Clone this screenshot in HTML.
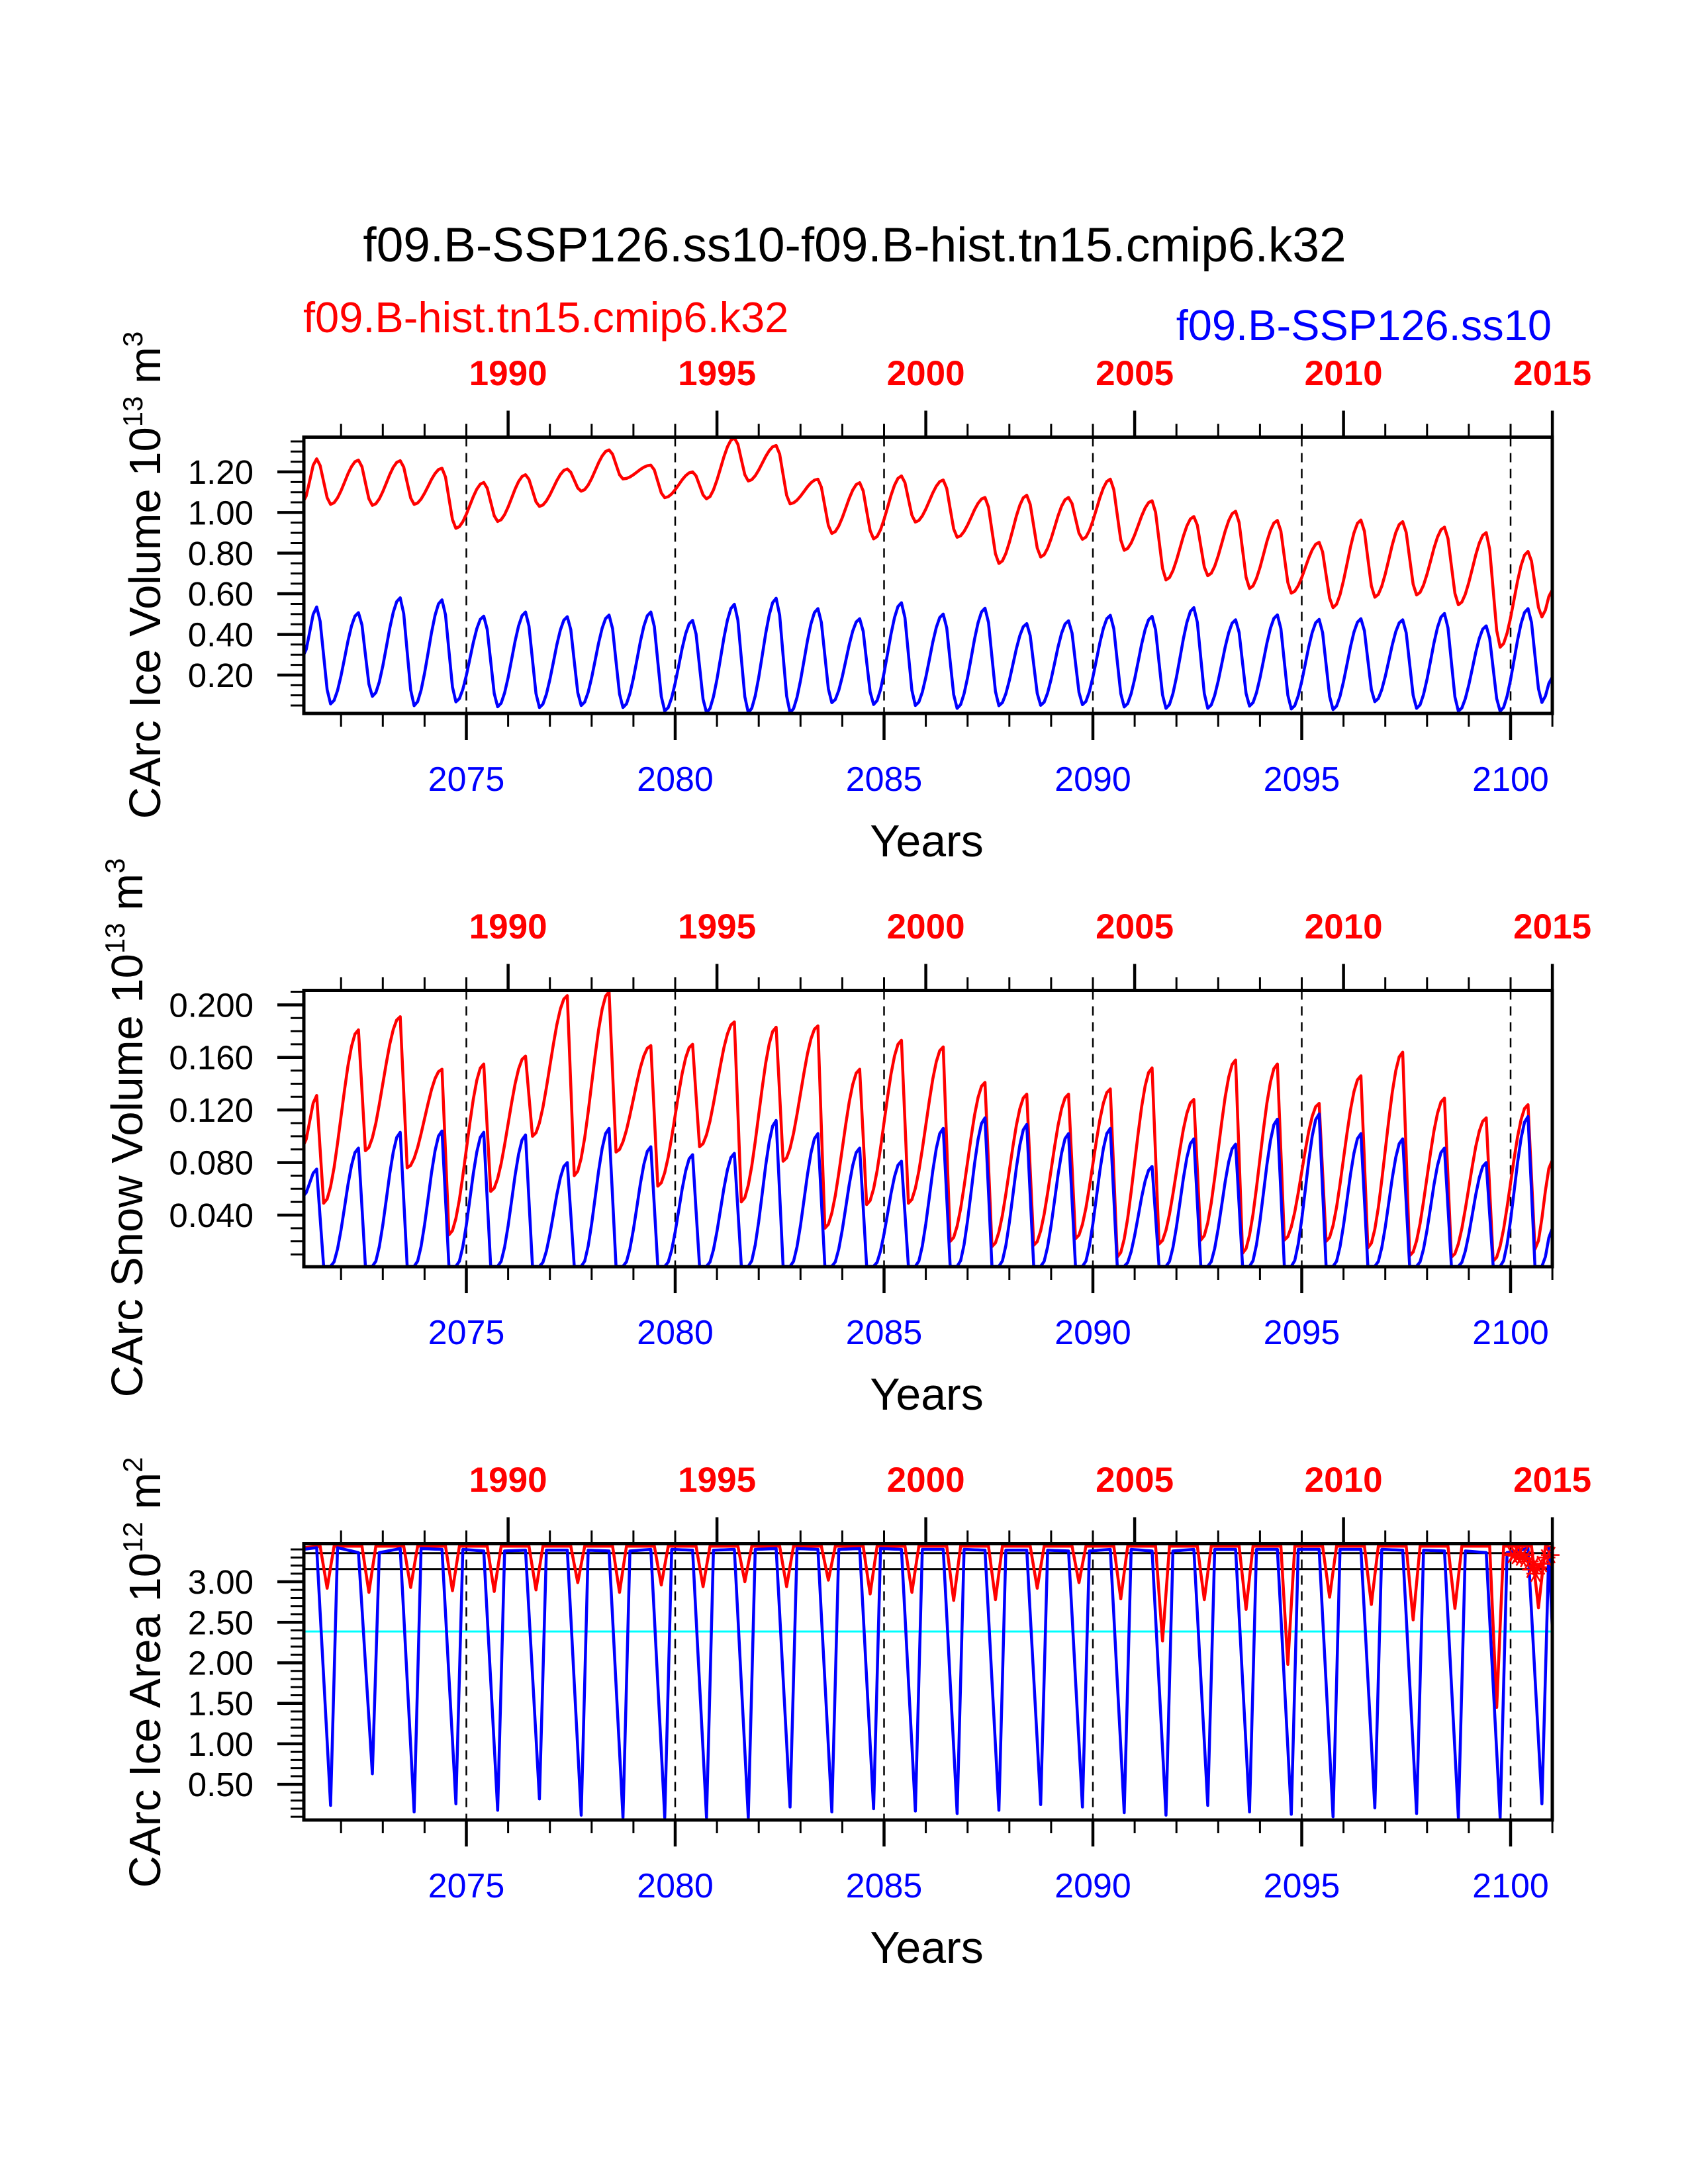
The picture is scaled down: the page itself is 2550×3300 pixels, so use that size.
<!DOCTYPE html>
<html><head><meta charset="utf-8"><title>CArc ice chart</title>
<style>
html,body{margin:0;padding:0;background:#fff;}
svg{display:block;font-family:"Liberation Sans",Arial,sans-serif;}
</style></head>
<body>
<svg id="chart" width="2550" height="3300" viewBox="0 0 2550 3300" xmlns="http://www.w3.org/2000/svg">
<rect width="2550" height="3300" fill="#fff"/>
<text x="1291" y="395" font-size="73" text-anchor="middle" fill="#000">f09.B-SSP126.ss10-f09.B-hist.tn15.cmip6.k32</text>
<text x="458" y="502" font-size="65" fill="#ff0000">f09.B-hist.tn15.cmip6.k32</text>
<text x="2344" y="514" font-size="65" text-anchor="end" fill="#0000ff">f09.B-SSP126.ss10</text>
<g id="plots"></g>
</svg>
<script>
// ---------------- data (years 2071..2100) ----------------
const years = [2071,2072,2073,2074,2075,2076,2077,2078,2079,2080,2081,2082,2083,2084,2085,2086,2087,2088,2089,2090,2091,2092,2093,2094,2095,2096,2097,2098,2099,2100];
const topTickLabels = ["1990","1995","2000","2005","2010","2015"];
const bottomTickLabels = ["2075","2080","2085","2090","2095","2100"];

const iceRedPeak = [1.264,1.258,1.255,1.218,1.148,1.186,1.214,1.308,1.233,1.20,1.367,1.33,1.164,1.147,1.18,1.16,1.074,1.085,1.074,1.164,1.058,0.98,1.006,0.961,0.853,0.963,0.955,0.928,0.901,0.808];
const iceRedTrough = [1.04,1.035,1.04,0.922,0.956,1.03,1.105,1.165,1.073,1.067,1.155,1.043,0.897,0.87,0.953,0.878,0.749,0.781,0.868,0.814,0.668,0.689,0.626,0.603,0.532,0.583,0.594,0.546,0.337,0.486];
const iceRedEnds = [1.05,0.62];
const iceBluePeak = [0.535,0.507,0.58,0.57,0.49,0.51,0.487,0.495,0.51,0.469,0.548,0.578,0.527,0.477,0.556,0.50,0.529,0.453,0.467,0.494,0.489,0.532,0.472,0.496,0.474,0.477,0.472,0.503,0.442,0.527];
const iceBlueTrough = [0.058,0.095,0.049,0.068,0.044,0.04,0.05,0.04,0.023,0.015,0.015,0.015,0.064,0.055,0.05,0.036,0.049,0.051,0.054,0.043,0.036,0.036,0.047,0.033,0.030,0.069,0.036,0.022,0.022,0.065];
const iceBlueEnds = [0.29,0.19];

const snowRedPeak = [0.131,0.181,0.191,0.151,0.155,0.161,0.207,0.210,0.169,0.170,0.187,0.183,0.184,0.151,0.173,0.168,0.141,0.132,0.132,0.136,0.152,0.128,0.158,0.155,0.125,0.146,0.164,0.129,0.114,0.124];
const snowRedTrough = [0.049,0.089,0.076,0.025,0.058,0.100,0.070,0.088,0.062,0.092,0.050,0.081,0.030,0.048,0.049,0.020,0.016,0.017,0.022,0.008,0.018,0.021,0.011,0.021,0.020,0.015,0.009,0.008,0.005,0.014];
const snowRedEnds = [0.092,0.082];
const snowBluePeak = [0.075,0.091,0.103,0.104,0.103,0.101,0.080,0.106,0.092,0.086,0.087,0.112,0.102,0.091,0.081,0.106,0.114,0.109,0.102,0.106,0.077,0.098,0.094,0.113,0.117,0.102,0.098,0.091,0.080,0.115];
const snowBlueTrough = [0.001,0.001,0.001,0.001,0.001,0.001,0.001,0.001,0.001,0.001,0.001,0.001,0.001,0.001,0.001,0.001,0.001,0.001,0.001,0.001,0.001,0.001,0.001,0.001,0.001,0.001,0.001,0.001,0.001,0.001];
const snowBlueEnds = [0.054,0.03];

const areaRedMax = [3.44,3.44,3.44,3.44,3.44,3.44,3.44,3.44,3.44,3.44,3.44,3.44,3.44,3.44,3.44,3.44,3.44,3.44,3.44,3.44,3.44,3.44,3.44,3.44,3.44,3.44,3.44,3.44,3.44,3.44];
const areaRedMin = [2.92,2.87,2.93,2.89,2.88,2.90,2.99,2.87,2.96,2.94,3.00,2.94,3.02,2.85,2.87,2.77,2.78,2.92,2.99,2.79,2.27,2.78,2.66,1.98,2.81,2.72,2.53,2.67,1.45,2.68];
const areaRedEnds = [3.42,3.42];
const areaBlueMax = [3.42,3.36,3.41,3.40,3.38,3.39,3.39,3.38,3.40,3.39,3.40,3.41,3.40,3.41,3.40,3.40,3.39,3.39,3.38,3.40,3.38,3.40,3.40,3.40,3.40,3.40,3.39,3.38,3.36,3.41];
const areaBlueMin = [0.24,0.63,0.16,0.26,0.18,0.32,0.12,0.09,0.09,0.09,0.09,0.22,0.16,0.20,0.17,0.14,0.18,0.25,0.22,0.15,0.12,0.24,0.16,0.13,0.10,0.21,0.14,0.09,0.09,0.26];
const areaBlueEnds = [3.40,2.40];
const areaRefLines = [3.354,3.158];
const areaCyanLine = [2.387];
const starTimes = [2100.05,2100.1,2100.15,2100.2,2100.25,2100.3,2100.35,2100.45,2100.5,2100.55,2100.6,2100.65,2100.75,2100.85,2100.95];
const starValues = [3.33,3.35,3.32,3.34,3.30,3.33,3.28,3.25,3.15,3.20,3.10,3.18,3.22,3.30,3.33];

// ---------------- layout ----------------
const NS = "http://www.w3.org/2000/svg";
const plots = document.getElementById("plots");
const LEFT = 459, RIGHT = 2345;
function X(t){ return 704.5 + (t - 2075) * 63.1; }
const panels = [
  {top:660.5, bot:1078, ymin:0.011, ymax:1.371, off:0, majors:[0.2,0.4,0.6,0.8,1.0,1.2], dec:2, minorStep:0.05, minorMax:1.36,
   title:["CArc Ice Volume 10","13"," m","3"], tx:242, ty:869, name:"ice-volume"},
  {top:1496.5, bot:1914, ymin:0.0007, ymax:0.211, off:836, majors:[0.04,0.08,0.12,0.16,0.2], dec:3, minorStep:0.01, minorMax:0.21,
   title:["CArc Snow Volume 10","13"," m","3"], tx:215, ty:1704, name:"snow-volume"},
  {top:2332.5, bot:2750, ymin:0.06, ymax:3.47, off:1672, majors:[0.5,1.0,1.5,2.0,2.5,3.0], dec:2, minorStep:0.1, minorMax:3.45,
   title:["CArc Ice Area 10","12"," m","2"], tx:242, ty:2527, name:"ice-area"}
];
function Y(p,v){ return p.bot - (v - p.ymin) / (p.ymax - p.ymin) * (p.bot - p.top); }
function mk(tag, attrs, parent){
  const e = document.createElementNS(NS, tag);
  for (const k in attrs) e.setAttribute(k, attrs[k]);
  (parent || plots).appendChild(e);
  return e;
}

function buildSeries(peak, trough, ends, template, linear){
  const keys = [{t: 2071 + 1/12, v: ends[0]}];
  years.forEach((y, i) => {
    template.forEach(([ph, kind]) => {
      keys.push({t: y + ph, v: kind === 'P' ? peak[i] : trough[i]});
    });
  });
  keys.push({t: 2101.0, v: ends[1]});
  keys.sort((a,b)=>a.t-b.t);
  const out = [];
  for (let i = 0; i < years.length * 12; i++){
    const t = 2071 + (i + 1) / 12;
    let k = 0;
    while (k < keys.length - 2 && keys[k+1].t < t - 1e-6) k++;
    const a = keys[k], b = keys[k+1];
    let u = (t - a.t) / (b.t - a.t);
    u = Math.max(0, Math.min(1, u));
    const w = linear ? u : (1 - Math.cos(Math.PI * u)) / 2;
    out.push([t, a.v + (b.v - a.v) * w]);
  }
  return out;
}

const seriesDefs = [
  [{peak:iceRedPeak, trough:iceRedTrough, ends:iceRedEnds, tpl:[[5/12,'P'],[9/12,'T']], color:"#ff0000", name:"hist-ice-volume-line"},
   {peak:iceBluePeak, trough:iceBlueTrough, ends:iceBlueEnds, tpl:[[5/12,'P'],[9/12,'T']], color:"#0000ff", name:"ssp126-ice-volume-line"}],
  [{peak:snowRedPeak, trough:snowRedTrough, ends:snowRedEnds, tpl:[[5/12,'P'],[7/12,'T']], color:"#ff0000", name:"hist-snow-volume-line"},
   {peak:snowBluePeak, trough:snowBlueTrough, ends:snowBlueEnds, tpl:[[5/12,'P'],[7/12,'T'],[9/12,'T']], color:"#0000ff", name:"ssp126-snow-volume-line"}],
  [{peak:areaRedMax, trough:areaRedMin, ends:areaRedEnds, tpl:[[6/12,'P'],[8/12,'T'],[10/12,'P']], color:"#ff0000", name:"hist-ice-area-line", linear:true},
   {peak:areaBlueMax, trough:areaBlueMin, ends:areaBlueEnds, tpl:[[5/12,'P'],[9/12,'T'],[11/12,'P']], color:"#0000ff", name:"ssp126-ice-area-line", linear:true}]
];

panels.forEach((p, pi) => {
  const g = mk("g", {});
  
  
  const cid = "clip" + pi;
  const cp = mk("clipPath", {id: cid}, g);
  mk("rect", {x: LEFT, y: p.top, width: RIGHT - LEFT, height: p.bot - p.top}, cp);

  for (let yr = 2075; yr <= 2100; yr += 5){
    const d = mk("line", {x1: X(yr), x2: X(yr), y1: p.top, y2: p.bot, stroke: "#000", "stroke-width": 2.5, "stroke-dasharray": "14 10"}, g);
    
    
  }
  if (pi === 2){
    areaRefLines.forEach(v => {
      const l = mk("line", {x1: LEFT, x2: RIGHT, y1: Y(p, v), y2: Y(p, v), stroke: "#000", "stroke-width": 3}, g);
      
      
    });
    areaCyanLine.forEach(v => {
      const l = mk("line", {x1: LEFT, x2: RIGHT, y1: Y(p, v), y2: Y(p, v), stroke: "#00ffff", "stroke-width": 3}, g);
      
      
    });
  }
  seriesDefs[pi].forEach(s => {
    const pts = buildSeries(s.peak, s.trough, s.ends, s.tpl, s.linear);
    const d = pts.map((q, i) => (i ? "L" : "M") + X(q[0]).toFixed(1) + " " + Y(p, q[1]).toFixed(1)).join(" ");
    const path = mk("path", {d: d, fill: "none", stroke: s.color, "stroke-width": 4.5, "stroke-linejoin": "round", "clip-path": "url(#" + cid + ")"}, g);
    
    
  });
  if (pi === 2){
    starTimes.forEach((t, i) => {
      const cx = X(t), cy = Y(p, starValues[i]);
      let d = "";
      for (let a = 0; a < 3; a++){
        const ang = a * Math.PI / 3;
        d += "M" + (cx - 14 * Math.cos(ang)) + " " + (cy - 14 * Math.sin(ang)) + " L" + (cx + 14 * Math.cos(ang)) + " " + (cy + 14 * Math.sin(ang)) + " ";
      }
      const st = mk("path", {d: d, stroke: "#ff0000", "stroke-width": 2.5, fill: "none"}, g);
      
      
    });
  }
  const fr = mk("rect", {x: LEFT, y: p.top, width: RIGHT - LEFT, height: p.bot - p.top, fill: "none", stroke: "#000", "stroke-width": 5}, g);
  
  

  for (let yr = 2072; yr <= 2101; yr++){
    const x = X(yr);
    const majBottom = (yr % 5 === 0);
    const majTop = ((yr - 2076) % 5 === 0);
    const tb = mk("line", {x1: x, x2: x, y1: p.bot, y2: p.bot + (majBottom ? 40 : 20), stroke: "#000", "stroke-width": majBottom ? 4.5 : 3}, g);
    
    
    const tt = mk("line", {x1: x, x2: x, y1: p.top, y2: p.top - (majTop ? 40 : 20), stroke: "#000", "stroke-width": majTop ? 4.5 : 3}, g);
    
    
  }
  topTickLabels.forEach((lab, i) => {
    const t = mk("text", {x: X(2076 + 5 * i), y: 582 + p.off, "font-size": 53, "font-weight": "bold", fill: "#ff0000", "text-anchor": "middle"}, g);
    
    
    t.textContent = lab;
  });
  bottomTickLabels.forEach((lab, i) => {
    const t = mk("text", {x: X(2075 + 5 * i), y: 1195 + p.off, "font-size": 52, fill: "#0000ff", "text-anchor": "middle"}, g);
    
    
    t.textContent = lab;
  });
  const xt = mk("text", {x: 1400, y: 1294 + p.off, "font-size": 68, fill: "#000", "text-anchor": "middle"}, g);
  
  
  xt.textContent = "Years";

  for (let v = p.minorStep; v <= p.minorMax + 1e-9; v += p.minorStep){
    const vv = Math.round(v / p.minorStep) * p.minorStep;
    if (vv < p.ymin || vv > p.ymax) continue;
    const isMaj = p.majors.some(m => Math.abs(m - vv) < 1e-9);
    const l = mk("line", {x1: LEFT, x2: LEFT - (isMaj ? 40 : 20), y1: Y(p, vv), y2: Y(p, vv), stroke: "#000", "stroke-width": isMaj ? 4.5 : 3}, g);
    
    
  }
  p.majors.forEach(m => {
    const t = mk("text", {x: 383, y: Y(p, m) + 18, "font-size": 51, fill: "#000", "text-anchor": "end"}, g);
    
    
    t.textContent = m.toFixed(p.dec);
  });
  const yt = mk("text", {x: p.tx, y: p.ty, "font-size": 67, fill: "#000", "text-anchor": "middle", transform: "rotate(-90 " + p.tx + " " + p.ty + ")"}, g);
  
  
  const s1 = mk("tspan", {}, yt); s1.textContent = p.title[0];
  const s2 = mk("tspan", {dy: -27, "font-size": 42}, yt); s2.textContent = p.title[1];
  const s3 = mk("tspan", {dy: 27}, yt); s3.textContent = p.title[2];
  const s4 = mk("tspan", {dy: -27, "font-size": 42}, yt); s4.textContent = p.title[3];
});
</script>
</body></html>
